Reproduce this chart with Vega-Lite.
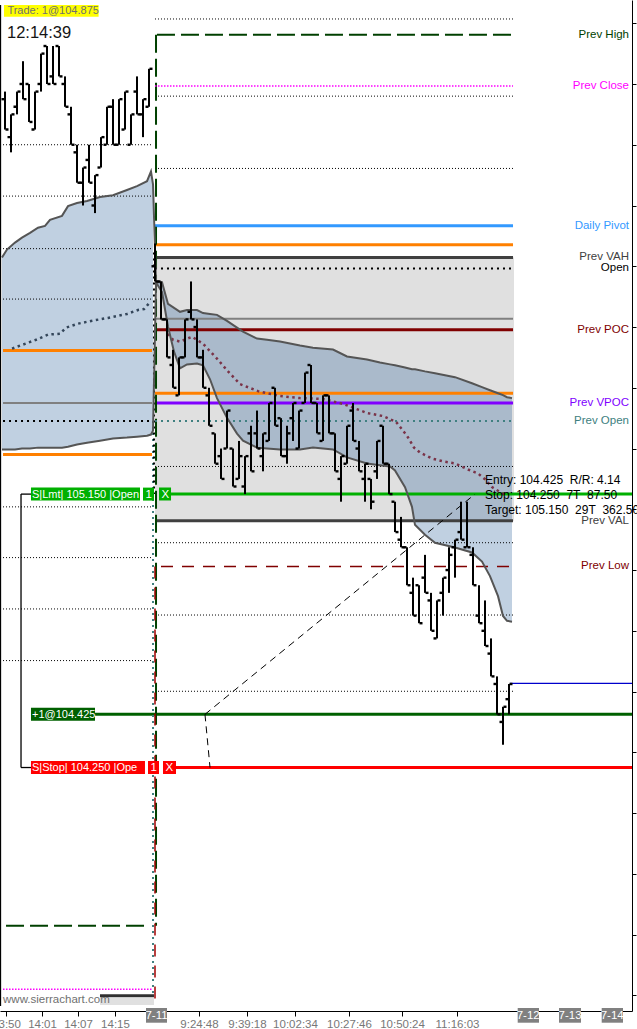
{
  "$schema": "https://vega.github.io/schema/vega-lite/v6.json",
  "width": 632,
  "height": 1011,
  "autosize": {"type": "none"},
  "padding": {"left": 0, "top": 0, "right": 5, "bottom": 18},
  "background": "#ffffff",
  "config": {"view": {"stroke": null}},
  "datasets": {
    "bars": [
      {"i":0,"o":106.45,"h":106.475,"l":106.35,"c":106.35},
      {"i":1,"o":106.325,"h":106.4,"l":106.275,"c":106.4},
      {"i":2,"o":106.425,"h":106.475,"l":106.4,"c":106.475},
      {"i":3,"o":106.5,"h":106.575,"l":106.45,"c":106.45},
      {"i":4,"o":106.5,"h":106.5,"l":106.375,"c":106.375},
      {"i":5,"o":106.35,"h":106.475,"l":106.35,"c":106.475},
      {"i":6,"o":106.5,"h":106.6,"l":106.475,"c":106.6},
      {"i":7,"o":106.625,"h":106.625,"l":106.5,"c":106.5},
      {"i":8,"o":106.525,"h":106.625,"l":106.5,"c":106.5},
      {"i":9,"o":106.625,"h":106.625,"l":106.525,"c":106.525},
      {"i":10,"o":106.5,"h":106.525,"l":106.425,"c":106.425},
      {"i":11,"o":106.4,"h":106.425,"l":106.3,"c":106.3},
      {"i":12,"o":106.275,"h":106.3,"l":106.175,"c":106.175},
      {"i":13,"o":106.175,"h":106.225,"l":106.1,"c":106.225},
      {"i":14,"o":106.25,"h":106.3,"l":106.175,"c":106.175},
      {"i":15,"o":106.1,"h":106.2,"l":106.075,"c":106.2},
      {"i":16,"o":106.225,"h":106.325,"l":106.225,"c":106.325},
      {"i":17,"o":106.3,"h":106.425,"l":106.3,"c":106.425},
      {"i":18,"o":106.425,"h":106.45,"l":106.3,"c":106.3},
      {"i":19,"o":106.3,"h":106.45,"l":106.3,"c":106.45},
      {"i":20,"o":106.35,"h":106.475,"l":106.35,"c":106.475},
      {"i":21,"o":106.3,"h":106.4,"l":106.3,"c":106.4},
      {"i":22,"o":106.475,"h":106.525,"l":106.4,"c":106.4},
      {"i":23,"o":106.4,"h":106.45,"l":106.325,"c":106.45},
      {"i":24,"o":106.425,"h":106.55,"l":106.425,"c":106.55},
      {"i":25,"o":105.9,"h":105.975,"l":105.85,"c":105.85},
      {"i":26,"o":105.85,"h":105.85,"l":105.725,"c":105.725},
      {"i":27,"o":105.725,"h":105.725,"l":105.6,"c":105.6},
      {"i":28,"o":105.575,"h":105.625,"l":105.5,"c":105.5},
      {"i":29,"o":105.475,"h":105.6,"l":105.475,"c":105.6},
      {"i":30,"o":105.6,"h":105.725,"l":105.6,"c":105.725},
      {"i":31,"o":105.75,"h":105.85,"l":105.725,"c":105.725},
      {"i":32,"o":105.7,"h":105.725,"l":105.6,"c":105.6},
      {"i":33,"o":105.6,"h":105.625,"l":105.5,"c":105.5},
      {"i":34,"o":105.475,"h":105.5,"l":105.375,"c":105.375},
      {"i":35,"o":105.35,"h":105.35,"l":105.25,"c":105.25},
      {"i":36,"o":105.275,"h":105.3,"l":105.2,"c":105.2},
      {"i":37,"o":105.3,"h":105.425,"l":105.3,"c":105.425},
      {"i":38,"o":105.3,"h":105.3,"l":105.175,"c":105.175},
      {"i":39,"o":105.2,"h":105.325,"l":105.2,"c":105.275},
      {"i":40,"o":105.175,"h":105.275,"l":105.15,"c":105.275},
      {"i":41,"o":105.35,"h":105.375,"l":105.225,"c":105.225},
      {"i":42,"o":105.35,"h":105.425,"l":105.3,"c":105.3},
      {"i":43,"o":105.275,"h":105.35,"l":105.225,"c":105.35},
      {"i":44,"o":105.325,"h":105.45,"l":105.325,"c":105.45},
      {"i":45,"o":105.5,"h":105.5,"l":105.375,"c":105.375},
      {"i":46,"o":105.4,"h":105.4,"l":105.275,"c":105.275},
      {"i":47,"o":105.275,"h":105.375,"l":105.25,"c":105.35},
      {"i":48,"o":105.4,"h":105.45,"l":105.325,"c":105.45},
      {"i":49,"o":105.3,"h":105.425,"l":105.3,"c":105.425},
      {"i":50,"o":105.45,"h":105.55,"l":105.45,"c":105.55},
      {"i":51,"o":105.575,"h":105.575,"l":105.45,"c":105.45},
      {"i":52,"o":105.45,"h":105.45,"l":105.35,"c":105.35},
      {"i":53,"o":105.325,"h":105.475,"l":105.325,"c":105.475},
      {"i":54,"o":105.475,"h":105.475,"l":105.35,"c":105.35},
      {"i":55,"o":105.35,"h":105.35,"l":105.225,"c":105.225},
      {"i":56,"o":105.2,"h":105.275,"l":105.125,"c":105.275},
      {"i":57,"o":105.25,"h":105.375,"l":105.25,"c":105.375},
      {"i":58,"o":105.425,"h":105.45,"l":105.325,"c":105.325},
      {"i":59,"o":105.3,"h":105.325,"l":105.225,"c":105.225},
      {"i":60,"o":105.2,"h":105.25,"l":105.125,"c":105.25},
      {"i":61,"o":105.2,"h":105.2,"l":105.1,"c":105.125},
      {"i":62,"o":105.225,"h":105.325,"l":105.2,"c":105.325},
      {"i":63,"o":105.375,"h":105.375,"l":105.25,"c":105.25},
      {"i":64,"o":105.25,"h":105.25,"l":105.15,"c":105.15},
      {"i":65,"o":105.125,"h":105.125,"l":105.025,"c":105.025},
      {"i":66,"o":105.0,"h":105.075,"l":104.975,"c":104.975},
      {"i":67,"o":104.975,"h":104.975,"l":104.85,"c":104.85},
      {"i":68,"o":104.825,"h":104.875,"l":104.75,"c":104.75},
      {"i":69,"o":104.85,"h":104.85,"l":104.725,"c":104.725},
      {"i":70,"o":104.875,"h":104.95,"l":104.825,"c":104.825},
      {"i":71,"o":104.8,"h":104.825,"l":104.7,"c":104.7},
      {"i":72,"o":104.675,"h":104.8,"l":104.675,"c":104.8},
      {"i":73,"o":104.825,"h":104.875,"l":104.75,"c":104.875},
      {"i":74,"o":104.9,"h":104.975,"l":104.825,"c":104.95},
      {"i":75,"o":104.975,"h":105.0,"l":104.875,"c":105.0},
      {"i":76,"o":105.025,"h":105.125,"l":105.0,"c":105.0},
      {"i":77,"o":104.975,"h":105.125,"l":104.975,"c":104.975},
      {"i":78,"o":104.95,"h":104.975,"l":104.85,"c":104.85},
      {"i":79,"o":104.75,"h":104.85,"l":104.725,"c":104.725},
      {"i":80,"o":104.7,"h":104.8,"l":104.65,"c":104.65},
      {"i":81,"o":104.625,"h":104.675,"l":104.55,"c":104.55},
      {"i":82,"o":104.525,"h":104.55,"l":104.425,"c":104.425},
      {"i":83,"o":104.4,"h":104.45,"l":104.325,"c":104.45},
      {"i":84,"o":104.475,"h":104.525,"l":104.425,"c":104.525}
    ],
    "segs": [
      {"name":"Prev High","x1":25.33,"x2":84.67,"p1":106.662,"p2":106.662},
      {"name":"Prev Close","x1":25,"x2":84.67,"p1":106.493,"p2":106.493},
      {"name":"Daily Pivot","x1":25,"x2":84.67,"p1":106.033,"p2":106.033},
      {"name":"Orange A","x1":25,"x2":84.67,"p1":105.971,"p2":105.971},
      {"name":"Prev VAH","x1":25,"x2":84.67,"p1":105.929,"p2":105.929},
      {"name":"Open","x1":25,"x2":84.67,"p1":105.893,"p2":105.893},
      {"name":"Grey A","x1":25,"x2":84.67,"p1":105.727,"p2":105.727},
      {"name":"Prev POC","x1":25,"x2":84.67,"p1":105.691,"p2":105.691},
      {"name":"Orange B","x1":25,"x2":84.67,"p1":105.482,"p2":105.482},
      {"name":"Prev VPOC","x1":25,"x2":84.67,"p1":105.45,"p2":105.45},
      {"name":"Prev Open","x1":25,"x2":84.67,"p1":105.391,"p2":105.391},
      {"name":"Prev VAL","x1":25,"x2":84.67,"p1":105.062,"p2":105.062},
      {"name":"Prev Low","x1":26,"x2":84.67,"p1":104.912,"p2":104.912},
      {"name":"Orange L1","x1":-0.33,"x2":24.5,"p1":105.623,"p2":105.623},
      {"name":"Orange L2","x1":-0.33,"x2":24.5,"p1":105.28,"p2":105.28},
      {"name":"Grey L","x1":-0.33,"x2":24.5,"p1":105.45,"p2":105.45},
      {"name":"Open L","x1":-0.33,"x2":24.5,"p1":105.391,"p2":105.391},
      {"name":"High L","x1":0.17,"x2":24.17,"p1":103.729,"p2":103.729},
      {"name":"Close L","x1":-0.33,"x2":24.67,"p1":103.52,"p2":103.52},
      {"name":"Target","x1":27.67,"x2":104.5,"p1":105.15,"p2":105.15},
      {"name":"Entry","x1":15,"x2":104.5,"p1":104.425,"p2":104.425},
      {"name":"Stop","x1":28.5,"x2":104.5,"p1":104.25,"p2":104.25},
      {"name":"Last","x1":84.17,"x2":104.5,"p1":104.527,"p2":104.527},
      {"name":"Grid","x1":25,"x2":84.67,"p1":106.714,"p2":106.714},
      {"name":"Grid","x1":25,"x2":84.67,"p1":106.46,"p2":106.46},
      {"name":"Grid","x1":25,"x2":84.67,"p1":106.222,"p2":106.222},
      {"name":"Grid","x1":25,"x2":84.67,"p1":105.241,"p2":105.241},
      {"name":"Grid","x1":25,"x2":84.67,"p1":104.99,"p2":104.99},
      {"name":"Grid","x1":25,"x2":84.67,"p1":104.752,"p2":104.752},
      {"name":"Grid","x1":25,"x2":84.67,"p1":104.501,"p2":104.501},
      {"name":"Grid","x1":-0.33,"x2":24.5,"p1":106.3,"p2":106.3},
      {"name":"Grid","x1":-0.33,"x2":24.5,"p1":106.131,"p2":106.131},
      {"name":"Grid","x1":-0.33,"x2":24.5,"p1":105.958,"p2":105.958},
      {"name":"Grid","x1":-0.33,"x2":24.5,"p1":105.792,"p2":105.792},
      {"name":"Grid","x1":-0.33,"x2":24.5,"p1":105.108,"p2":105.108},
      {"name":"Grid","x1":-0.33,"x2":24.5,"p1":104.941,"p2":104.941},
      {"name":"Grid","x1":-0.33,"x2":24.5,"p1":104.772,"p2":104.772},
      {"name":"Grid","x1":-0.33,"x2":24.5,"p1":104.602,"p2":104.602},
      {"name":"High V","x1":25.17,"x2":25.17,"p1":106.662,"p2":103.729},
      {"name":"Open V","x1":24.67,"x2":24.67,"p1":105.391,"p2":103.501},
      {"name":"Low V","x1":25,"x2":25,"p1":104.912,"p2":103.465},
      {"name":"DayOpen V","x1":24.83,"x2":24.83,"p1":105.945,"p2":105.15},
      {"name":"Bracket","x1":2.67,"x2":2.67,"p1":105.15,"p2":104.25},
      {"name":"Bracket","x1":2.67,"x2":4.33,"p1":105.15,"p2":105.15},
      {"name":"Bracket","x1":2.67,"x2":4.33,"p1":104.25,"p2":104.25},
      {"name":"Trade","x1":33.33,"x2":78.33,"p1":104.425,"p2":105.15},
      {"name":"Trade","x1":33.33,"x2":34.17,"p1":104.425,"p2":104.25},
      {"name":"Border","x1":-0.75,"x2":-0.75,"p1":106.76,"p2":103.465}
    ],
    "band": [
      {"s":"prev","i":-0.5,"up":105.929,"lo":105.297},
      {"s":"prev","i":0.33,"up":105.955,"lo":105.297},
      {"s":"prev","i":1.67,"up":105.978,"lo":105.297},
      {"s":"prev","i":2.83,"up":105.994,"lo":105.3},
      {"s":"prev","i":4.17,"up":106.01,"lo":105.3},
      {"s":"prev","i":5.5,"up":106.027,"lo":105.303},
      {"s":"prev","i":6.67,"up":106.033,"lo":105.303},
      {"s":"prev","i":7.5,"up":106.053,"lo":105.303},
      {"s":"prev","i":9.5,"up":106.066,"lo":105.303},
      {"s":"prev","i":10.5,"up":106.098,"lo":105.306},
      {"s":"prev","i":12,"up":106.108,"lo":105.313},
      {"s":"prev","i":13.67,"up":106.115,"lo":105.319},
      {"s":"prev","i":15.83,"up":106.128,"lo":105.326},
      {"s":"prev","i":18,"up":106.134,"lo":105.333},
      {"s":"prev","i":20.33,"up":106.151,"lo":105.336},
      {"s":"prev","i":22,"up":106.164,"lo":105.339},
      {"s":"prev","i":23.67,"up":106.18,"lo":105.342},
      {"s":"prev","i":24.33,"up":106.212,"lo":105.346},
      {"s":"prev","i":24.67,"up":106.17,"lo":105.359},
      {"s":"today","i":25.17,"up":105.847,"lo":105.847},
      {"s":"today","i":26.17,"up":105.847,"lo":105.815},
      {"s":"today","i":27.17,"up":105.776,"lo":105.701},
      {"s":"today","i":28.17,"up":105.763,"lo":105.619},
      {"s":"today","i":29.17,"up":105.75,"lo":105.564},
      {"s":"today","i":30.33,"up":105.756,"lo":105.577},
      {"s":"today","i":32,"up":105.756,"lo":105.58},
      {"s":"today","i":33,"up":105.746,"lo":105.574},
      {"s":"today","i":34.17,"up":105.743,"lo":105.528},
      {"s":"today","i":35.33,"up":105.74,"lo":105.466},
      {"s":"today","i":37,"up":105.72,"lo":105.401},
      {"s":"today","i":38.67,"up":105.698,"lo":105.349},
      {"s":"today","i":39.67,"up":105.685,"lo":105.326},
      {"s":"today","i":42,"up":105.662,"lo":105.303},
      {"s":"today","i":43.67,"up":105.658,"lo":105.3},
      {"s":"today","i":45.83,"up":105.652,"lo":105.297},
      {"s":"today","i":49.17,"up":105.639,"lo":105.297},
      {"s":"today","i":51.33,"up":105.632,"lo":105.303},
      {"s":"today","i":54.67,"up":105.626,"lo":105.297},
      {"s":"today","i":57,"up":105.603,"lo":105.271},
      {"s":"today","i":60.33,"up":105.593,"lo":105.251},
      {"s":"today","i":62.5,"up":105.583,"lo":105.245},
      {"s":"today","i":64.17,"up":105.577,"lo":105.241},
      {"s":"today","i":65,"up":105.574,"lo":105.228},
      {"s":"today","i":66.67,"up":105.567,"lo":105.173},
      {"s":"today","i":67.83,"up":105.561,"lo":105.108},
      {"s":"today","i":68.33,"up":105.561,"lo":105.049},
      {"s":"today","i":70,"up":105.554,"lo":105.016},
      {"s":"today","i":71.67,"up":105.548,"lo":104.99},
      {"s":"today","i":75,"up":105.535,"lo":104.974},
      {"s":"today","i":77.83,"up":105.515,"lo":104.958},
      {"s":"today","i":79.5,"up":105.502,"lo":104.928},
      {"s":"today","i":80.83,"up":105.492,"lo":104.88},
      {"s":"today","i":82.17,"up":105.482,"lo":104.814},
      {"s":"today","i":83,"up":105.476,"lo":104.749},
      {"s":"today","i":83.67,"up":105.469,"lo":104.733},
      {"s":"today","i":84.5,"up":105.466,"lo":104.73}
    ],
    "vwap": [
      {"s":"prev","i":1.17,"v":105.629},
      {"s":"prev","i":5.17,"v":105.658},
      {"s":"prev","i":7.17,"v":105.675},
      {"s":"prev","i":9.17,"v":105.678},
      {"s":"prev","i":10.17,"v":105.698},
      {"s":"prev","i":12.17,"v":105.711},
      {"s":"prev","i":14.33,"v":105.72},
      {"s":"prev","i":17.17,"v":105.73},
      {"s":"prev","i":20.33,"v":105.743},
      {"s":"prev","i":22.17,"v":105.756},
      {"s":"prev","i":23.17,"v":105.759},
      {"s":"prev","i":24.17,"v":105.782},
      {"s":"today","i":27.17,"v":105.678},
      {"s":"today","i":28,"v":105.658},
      {"s":"today","i":29.17,"v":105.652},
      {"s":"today","i":31.17,"v":105.668},
      {"s":"today","i":33,"v":105.645},
      {"s":"today","i":35.33,"v":105.596},
      {"s":"today","i":37.17,"v":105.554},
      {"s":"today","i":39.17,"v":105.512},
      {"s":"today","i":42.17,"v":105.489},
      {"s":"today","i":45.83,"v":105.473},
      {"s":"today","i":49.17,"v":105.466},
      {"s":"today","i":53,"v":105.463},
      {"s":"today","i":56.33,"v":105.447},
      {"s":"today","i":60.33,"v":105.417},
      {"s":"today","i":63,"v":105.407},
      {"s":"today","i":65.17,"v":105.388},
      {"s":"today","i":67,"v":105.342},
      {"s":"today","i":68.17,"v":105.303},
      {"s":"today","i":69.17,"v":105.287},
      {"s":"today","i":71.17,"v":105.267},
      {"s":"today","i":73,"v":105.258},
      {"s":"today","i":75,"v":105.251},
      {"s":"today","i":77.17,"v":105.231},
      {"s":"today","i":78.83,"v":105.218},
      {"s":"today","i":80,"v":105.199},
      {"s":"today","i":81.17,"v":105.173},
      {"s":"today","i":83.33,"v":105.147}
    ],
    "orders": [
      {"kind":"Target","part":"main","text":"S|Lmt| 105.150 |Open|0","x1":4.33,"x2":22.5,"p":105.15},
      {"kind":"Target","part":"small","text":"1","x1":23,"x2":24.83,"p":105.15},
      {"kind":"Target","part":"small","text":"X","x1":25.67,"x2":27.67,"p":105.15},
      {"kind":"Entry","part":"main","text":"+1@104.425","x1":4.33,"x2":15,"p":104.425},
      {"kind":"Stop","part":"main","text":"S|Stop| 104.250 |Open|0","x1":4.33,"x2":23.33,"p":104.25},
      {"kind":"Stop","part":"small","text":"1","x1":23.83,"x2":25.67,"p":104.25},
      {"kind":"Stop","part":"small","text":"X","x1":26.33,"x2":28.5,"p":104.25}
    ],
    "boxes": [
      {"name":"VA","x1":25,"x2":84.83,"p1":105.929,"p2":105.062},
      {"name":"Header","x1":-0.17,"x2":15.6,"p1":106.76,"p2":106.721},
      {"name":"LogoBar","x1":15.83,"x2":24.83,"p1":103.504,"p2":103.494},
      {"name":"LogoBox","x1":15.83,"x2":24.83,"p1":103.491,"p2":103.468},
      {"name":"Date","x1":23.5,"x2":27,"p1":103.4585,"p2":103.41},
      {"name":"Date","x1":85.45,"x2":89,"p1":103.4585,"p2":103.41},
      {"name":"Date","x1":92.33,"x2":96,"p1":103.4585,"p2":103.41},
      {"name":"Date","x1":99.45,"x2":103,"p1":103.4585,"p2":103.41}
    ],
    "notes": [
      {"name":"trade","text":"Trade: 1@104.875","i":0.4,"p":106.741},
      {"name":"clock","text":"12:14:39","i":0.33,"p":106.667},
      {"name":"logo","text":"www.sierrachart.com","i":-0.33,"p":103.485},
      {"name":"info","text":"Entry: 104.425\u00a0 R/R: 4.14\nStop: 104.250\u00a0 7T\u00a0 87.50\nTarget: 105.150\u00a0 29T\u00a0 362.50","i":80,"p":105.196},
      {"name":"date","text":"7-11","i":25.25,"p":103.433},
      {"name":"date","text":"7-12","i":87.2,"p":103.433},
      {"name":"date","text":"7-13","i":94.17,"p":103.433},
      {"name":"date","text":"7-14","i":101.2,"p":103.433}
    ]
  },
  "layer": [
    {
      "data": {"name": "boxes"},
      "transform": [{"filter": "datum.name == 'VA'"}],
      "mark": {"type": "rect", "color": "#e0e0e0"},
      "encoding": {
        "x": {"field": "x1", "type": "quantitative", "title": null,
          "scale": {"domain": [-0.833, 104.5], "nice": false, "zero": false},
          "axis": {"orient": "bottom", "grid": false, "title": null,
            "values": [0.17, 6.17, 12.17, 18.33, 25.33, 32.33, 40.33, 48.33, 57.33, 66.17, 75.33, 87.17, 94.17, 101.17],
            "labelExpr": "['13:50','14:01','14:07','14:15','','9:24:48','9:39:18','10:02:34','10:27:46','10:50:24','11:16:03','','',''][indexof([0.17, 6.17, 12.17, 18.33, 25.33, 32.33, 40.33, 48.33, 57.33, 66.17, 75.33, 87.17, 94.17, 101.17], datum.value)]",
            "tickSize": 5, "tickColor": "#000000", "domainColor": "#000000",
            "labelColor": "#777777", "labelFont": "Liberation Sans",
            "labelFontSize": 11.5, "labelPadding": 2, "labelFlush": false, "labelOverlap": false}},
        "x2": {"field": "x2"},
        "y": {"field": "p1", "type": "quantitative", "title": null,
          "scale": {"domain": [103.465, 106.76], "nice": false, "zero": false},
          "axis": {"orient": "right", "grid": false, "title": null, "labels": false,
            "values": [103.5,103.6,103.7,103.8,103.9,104.0,104.1,104.2,104.3,104.4,104.5,104.6,104.7,104.8,104.9,105.0,105.1,105.2,105.3,105.4,105.5,105.6,105.7,105.8,105.9,106.0,106.1,106.2,106.3,106.4,106.5,106.6,106.7],
            "tickSize": 4, "tickColor": "#000000", "domainColor": "#000000"}},
        "y2": {"field": "p2"}
      }
    },
    {
      "data": {"name": "band"},
      "mark": {"type": "area", "color": "#30629b", "opacity": 0.3},
      "encoding": {
        "x": {"field": "i", "type": "quantitative", "title": null},
        "y": {"field": "up", "type": "quantitative", "title": null},
        "y2": {"field": "lo"},
        "detail": {"field": "s"}
      }
    },
    {
      "data": {"name": "segs"},
      "transform": [{"filter": "datum.name == 'Grid'"}],
      "mark": {"type": "rule", "strokeWidth": 1, "strokeDash": [1, 2], "color": "#000000"},
      "encoding": {
        "x": {"field": "x1", "type": "quantitative", "title": null}, "x2": {"field": "x2"},
        "y": {"field": "p1", "type": "quantitative", "title": null}, "y2": {"field": "p2"}
      }
    },
    {
      "data": {"name": "boxes"},
      "transform": [{"filter": "datum.name == 'Header'"}],
      "mark": {"type": "rect", "color": "#ffff00"},
      "encoding": {
        "x": {"field": "x1", "type": "quantitative", "title": null}, "x2": {"field": "x2"},
        "y": {"field": "p1", "type": "quantitative", "title": null}, "y2": {"field": "p2"}
      }
    },
    {
      "data": {"name": "boxes"},
      "transform": [{"filter": "datum.name == 'LogoBar'"}],
      "mark": {"type": "rect", "color": "#303030"},
      "encoding": {
        "x": {"field": "x1", "type": "quantitative", "title": null}, "x2": {"field": "x2"},
        "y": {"field": "p1", "type": "quantitative", "title": null}, "y2": {"field": "p2"}
      }
    },
    {
      "data": {"name": "boxes"},
      "transform": [{"filter": "datum.name == 'LogoBox'"}],
      "mark": {"type": "rect", "color": "#e0e0e0"},
      "encoding": {
        "x": {"field": "x1", "type": "quantitative", "title": null}, "x2": {"field": "x2"},
        "y": {"field": "p1", "type": "quantitative", "title": null}, "y2": {"field": "p2"}
      }
    },
    {
      "data": {"name": "segs"},
      "transform": [{"filter": {"field": "name", "oneOf": ["Grey A", "Grey L"]}}],
      "mark": {"type": "rule", "strokeWidth": 2},
      "encoding": {
        "x": {"field": "x1", "type": "quantitative", "title": null}, "x2": {"field": "x2"},
        "y": {"field": "p1", "type": "quantitative", "title": null}, "y2": {"field": "p2"},
        "color": {"field": "name", "type": "nominal", "legend": null,
          "scale": {"domain": ["Prev High","High L","High V","Prev Close","Close L","Daily Pivot","Orange A","Orange B","Orange L1","Orange L2","Prev VAH","Prev VAL","Open","Open L","DayOpen V","Grey A","Grey L","Prev POC","Prev Low","Low V","Prev VPOC","Prev Open","Open V","Target","Entry","Stop","Last","Grid","Bracket","Trade","Border"],
            "range": ["#004000","#004000","#004000","#ff00ff","#ff00ff","#3399ff","#ff8000","#ff8000","#ff8000","#ff8000","#404040","#404040","#000000","#000000","#000000","#808080","#808080","#800000","#800000","#a00000","#8000ff","#408080","#408080","#00b000","#006000","#ff0000","#0000cc","#000000","#000000","#000000","#000000"]}}
      }
    },
    {
      "data": {"name": "segs"},
      "transform": [{"filter": {"field": "name", "oneOf": ["Daily Pivot","Orange A","Orange B","Orange L1","Orange L2","Prev VAH","Prev VAL","Prev POC","Prev VPOC","Target","Entry","Stop"]}}],
      "mark": {"type": "rule", "strokeWidth": 3},
      "encoding": {
        "x": {"field": "x1", "type": "quantitative", "title": null}, "x2": {"field": "x2"},
        "y": {"field": "p1", "type": "quantitative", "title": null}, "y2": {"field": "p2"},
        "color": {"field": "name", "type": "nominal", "legend": null,
          "scale": {"domain": ["Prev High","High L","High V","Prev Close","Close L","Daily Pivot","Orange A","Orange B","Orange L1","Orange L2","Prev VAH","Prev VAL","Open","Open L","DayOpen V","Grey A","Grey L","Prev POC","Prev Low","Low V","Prev VPOC","Prev Open","Open V","Target","Entry","Stop","Last","Grid","Bracket","Trade","Border"],
            "range": ["#004000","#004000","#004000","#ff00ff","#ff00ff","#3399ff","#ff8000","#ff8000","#ff8000","#ff8000","#404040","#404040","#000000","#000000","#000000","#808080","#808080","#800000","#800000","#a00000","#8000ff","#408080","#408080","#00b000","#006000","#ff0000","#0000cc","#000000","#000000","#000000","#000000"]}}
      }
    },
    {
      "data": {"name": "segs"},
      "transform": [{"filter": {"field": "name", "oneOf": ["Prev High", "High L", "High V"]}}],
      "mark": {"type": "rule", "strokeWidth": 2, "strokeDash": [18, 6]},
      "encoding": {
        "x": {"field": "x1", "type": "quantitative", "title": null}, "x2": {"field": "x2"},
        "y": {"field": "p1", "type": "quantitative", "title": null}, "y2": {"field": "p2"},
        "color": {"field": "name", "type": "nominal", "legend": null,
          "scale": {"domain": ["Prev High","High L","High V","Prev Close","Close L","Daily Pivot","Orange A","Orange B","Orange L1","Orange L2","Prev VAH","Prev VAL","Open","Open L","DayOpen V","Grey A","Grey L","Prev POC","Prev Low","Low V","Prev VPOC","Prev Open","Open V","Target","Entry","Stop","Last","Grid","Bracket","Trade","Border"],
            "range": ["#004000","#004000","#004000","#ff00ff","#ff00ff","#3399ff","#ff8000","#ff8000","#ff8000","#ff8000","#404040","#404040","#000000","#000000","#000000","#808080","#808080","#800000","#800000","#a00000","#8000ff","#408080","#408080","#00b000","#006000","#ff0000","#0000cc","#000000","#000000","#000000","#000000"]}}
      }
    },
    {
      "data": {"name": "segs"},
      "transform": [{"filter": {"field": "name", "oneOf": ["Prev Low", "Low V"]}}],
      "mark": {"type": "rule", "strokeWidth": 1.5, "strokeDash": [12, 9]},
      "encoding": {
        "x": {"field": "x1", "type": "quantitative", "title": null}, "x2": {"field": "x2"},
        "y": {"field": "p1", "type": "quantitative", "title": null}, "y2": {"field": "p2"},
        "color": {"field": "name", "type": "nominal", "legend": null,
          "scale": {"domain": ["Prev High","High L","High V","Prev Close","Close L","Daily Pivot","Orange A","Orange B","Orange L1","Orange L2","Prev VAH","Prev VAL","Open","Open L","DayOpen V","Grey A","Grey L","Prev POC","Prev Low","Low V","Prev VPOC","Prev Open","Open V","Target","Entry","Stop","Last","Grid","Bracket","Trade","Border"],
            "range": ["#004000","#004000","#004000","#ff00ff","#ff00ff","#3399ff","#ff8000","#ff8000","#ff8000","#ff8000","#404040","#404040","#000000","#000000","#000000","#808080","#808080","#800000","#800000","#a00000","#8000ff","#408080","#408080","#00b000","#006000","#ff0000","#0000cc","#000000","#000000","#000000","#000000"]}}
      }
    },
    {
      "data": {"name": "segs"},
      "transform": [{"filter": {"field": "name", "oneOf": ["Open", "Open L", "Prev Open", "Open V", "DayOpen V"]}}],
      "mark": {"type": "rule", "strokeWidth": 2, "strokeDash": [2, 4]},
      "encoding": {
        "x": {"field": "x1", "type": "quantitative", "title": null}, "x2": {"field": "x2"},
        "y": {"field": "p1", "type": "quantitative", "title": null}, "y2": {"field": "p2"},
        "color": {"field": "name", "type": "nominal", "legend": null,
          "scale": {"domain": ["Prev High","High L","High V","Prev Close","Close L","Daily Pivot","Orange A","Orange B","Orange L1","Orange L2","Prev VAH","Prev VAL","Open","Open L","DayOpen V","Grey A","Grey L","Prev POC","Prev Low","Low V","Prev VPOC","Prev Open","Open V","Target","Entry","Stop","Last","Grid","Bracket","Trade","Border"],
            "range": ["#004000","#004000","#004000","#ff00ff","#ff00ff","#3399ff","#ff8000","#ff8000","#ff8000","#ff8000","#404040","#404040","#000000","#000000","#000000","#808080","#808080","#800000","#800000","#a00000","#8000ff","#408080","#408080","#00b000","#006000","#ff0000","#0000cc","#000000","#000000","#000000","#000000"]}}
      }
    },
    {
      "data": {"name": "segs"},
      "transform": [{"filter": {"field": "name", "oneOf": ["Prev Close", "Close L"]}}],
      "mark": {"type": "rule", "strokeWidth": 1.5, "strokeDash": [1.5, 1.5]},
      "encoding": {
        "x": {"field": "x1", "type": "quantitative", "title": null}, "x2": {"field": "x2"},
        "y": {"field": "p1", "type": "quantitative", "title": null}, "y2": {"field": "p2"},
        "color": {"field": "name", "type": "nominal", "legend": null,
          "scale": {"domain": ["Prev High","High L","High V","Prev Close","Close L","Daily Pivot","Orange A","Orange B","Orange L1","Orange L2","Prev VAH","Prev VAL","Open","Open L","DayOpen V","Grey A","Grey L","Prev POC","Prev Low","Low V","Prev VPOC","Prev Open","Open V","Target","Entry","Stop","Last","Grid","Bracket","Trade","Border"],
            "range": ["#004000","#004000","#004000","#ff00ff","#ff00ff","#3399ff","#ff8000","#ff8000","#ff8000","#ff8000","#404040","#404040","#000000","#000000","#000000","#808080","#808080","#800000","#800000","#a00000","#8000ff","#408080","#408080","#00b000","#006000","#ff0000","#0000cc","#000000","#000000","#000000","#000000"]}}
      }
    },
    {
      "data": {"name": "vwap"},
      "transform": [{"filter": "datum.s == 'prev'"}],
      "mark": {"type": "line", "color": "#34465a", "strokeWidth": 2.5, "strokeDash": [2.5, 3.5]},
      "encoding": {
        "x": {"field": "i", "type": "quantitative", "title": null},
        "y": {"field": "v", "type": "quantitative", "title": null}
      }
    },
    {
      "data": {"name": "vwap"},
      "transform": [{"filter": "datum.s == 'today'"}],
      "mark": {"type": "line", "color": "#7a3348", "strokeWidth": 2.5, "strokeDash": [2.5, 3.5]},
      "encoding": {
        "x": {"field": "i", "type": "quantitative", "title": null},
        "y": {"field": "v", "type": "quantitative", "title": null}
      }
    },
    {
      "data": {"name": "band"},
      "mark": {"type": "line", "color": "#555555", "strokeWidth": 2},
      "encoding": {
        "x": {"field": "i", "type": "quantitative", "title": null},
        "y": {"field": "up", "type": "quantitative", "title": null}
      }
    },
    {
      "data": {"name": "band"},
      "mark": {"type": "line", "color": "#555555", "strokeWidth": 2},
      "encoding": {
        "x": {"field": "i", "type": "quantitative", "title": null},
        "y": {"field": "lo", "type": "quantitative", "title": null}
      }
    },
    {
      "data": {"name": "segs"},
      "transform": [{"filter": {"field": "name", "oneOf": ["Last", "Bracket", "Border"]}}],
      "mark": {"type": "rule", "strokeWidth": 1.3},
      "encoding": {
        "x": {"field": "x1", "type": "quantitative", "title": null}, "x2": {"field": "x2"},
        "y": {"field": "p1", "type": "quantitative", "title": null}, "y2": {"field": "p2"},
        "color": {"field": "name", "type": "nominal", "legend": null,
          "scale": {"domain": ["Prev High","High L","High V","Prev Close","Close L","Daily Pivot","Orange A","Orange B","Orange L1","Orange L2","Prev VAH","Prev VAL","Open","Open L","DayOpen V","Grey A","Grey L","Prev POC","Prev Low","Low V","Prev VPOC","Prev Open","Open V","Target","Entry","Stop","Last","Grid","Bracket","Trade","Border"],
            "range": ["#004000","#004000","#004000","#ff00ff","#ff00ff","#3399ff","#ff8000","#ff8000","#ff8000","#ff8000","#404040","#404040","#000000","#000000","#000000","#808080","#808080","#800000","#800000","#a00000","#8000ff","#408080","#408080","#00b000","#006000","#ff0000","#0000cc","#000000","#000000","#000000","#000000"]}}
      }
    },
    {
      "data": {"name": "segs"},
      "transform": [{"filter": "datum.name == 'Trade'"}],
      "mark": {"type": "rule", "strokeWidth": 1, "strokeDash": [7, 5], "color": "#000000"},
      "encoding": {
        "x": {"field": "x1", "type": "quantitative", "title": null}, "x2": {"field": "x2"},
        "y": {"field": "p1", "type": "quantitative", "title": null}, "y2": {"field": "p2"}
      }
    },
    {
      "data": {"name": "bars"},
      "mark": {"type": "rule", "strokeWidth": 2, "color": "#000000"},
      "encoding": {
        "x": {"field": "i", "type": "quantitative", "title": null},
        "y": {"field": "l", "type": "quantitative", "title": null},
        "y2": {"field": "h"}
      }
    },
    {
      "data": {"name": "bars"},
      "mark": {"type": "tick", "orient": "horizontal", "size": 3, "thickness": 2.4, "xOffset": -2, "color": "#000000", "opacity": 1},
      "encoding": {
        "x": {"field": "i", "type": "quantitative", "title": null},
        "y": {"field": "o", "type": "quantitative", "title": null}
      }
    },
    {
      "data": {"name": "bars"},
      "mark": {"type": "tick", "orient": "horizontal", "size": 3, "thickness": 2.4, "xOffset": 2, "color": "#000000", "opacity": 1},
      "encoding": {
        "x": {"field": "i", "type": "quantitative", "title": null},
        "y": {"field": "c", "type": "quantitative", "title": null}
      }
    },
    {
      "data": {"name": "orders"},
      "mark": {"type": "bar", "orient": "horizontal", "size": 13},
      "encoding": {
        "x": {"field": "x1", "type": "quantitative", "title": null}, "x2": {"field": "x2"},
        "y": {"field": "p", "type": "quantitative", "title": null},
        "color": {"field": "kind", "type": "nominal", "legend": null,
          "scale": {"domain": ["Prev High","High L","High V","Prev Close","Close L","Daily Pivot","Orange A","Orange B","Orange L1","Orange L2","Prev VAH","Prev VAL","Open","Open L","DayOpen V","Grey A","Grey L","Prev POC","Prev Low","Low V","Prev VPOC","Prev Open","Open V","Target","Entry","Stop","Last","Grid","Bracket","Trade","Border"],
            "range": ["#004000","#004000","#004000","#ff00ff","#ff00ff","#3399ff","#ff8000","#ff8000","#ff8000","#ff8000","#404040","#404040","#000000","#000000","#000000","#808080","#808080","#800000","#800000","#a00000","#8000ff","#408080","#408080","#00b000","#006000","#ff0000","#0000cc","#000000","#000000","#000000","#000000"]}}
      }
    },
    {
      "data": {"name": "orders"},
      "transform": [{"filter": "datum.part == 'main'"}],
      "mark": {"type": "text", "align": "left", "baseline": "middle", "dx": 1, "dy": 0.5, "limit": 108, "ellipsis": "\u200b", "color": "#ffffff", "font": "Liberation Sans", "fontSize": 11},
      "encoding": {
        "x": {"field": "x1", "type": "quantitative", "title": null},
        "y": {"field": "p", "type": "quantitative", "title": null},
        "text": {"field": "text"}
      }
    },
    {
      "data": {"name": "orders"},
      "transform": [{"filter": "datum.part == 'small'"}],
      "mark": {"type": "text", "align": "left", "baseline": "middle", "dx": 2.5, "dy": 0.5, "color": "#ffffff", "font": "Liberation Sans", "fontSize": 11.5},
      "encoding": {
        "x": {"field": "x1", "type": "quantitative", "title": null},
        "y": {"field": "p", "type": "quantitative", "title": null},
        "text": {"field": "text"}
      }
    },
    {
      "data": {"name": "segs"},
      "transform": [{"filter": {"field": "name", "oneOf": ["Prev High","Prev Close","Daily Pivot","Prev VAH","Open","Prev POC","Prev VPOC","Prev Open","Prev VAL","Prev Low"]}}],
      "mark": {"type": "text", "align": "right", "baseline": "middle", "font": "Liberation Sans", "fontSize": 11.5},
      "encoding": {
        "x": {"datum": 104},
        "y": {"field": "p1", "type": "quantitative", "title": null},
        "text": {"field": "name"},
        "color": {"field": "name", "type": "nominal", "legend": null,
          "scale": {"domain": ["Prev High","High L","High V","Prev Close","Close L","Daily Pivot","Orange A","Orange B","Orange L1","Orange L2","Prev VAH","Prev VAL","Open","Open L","DayOpen V","Grey A","Grey L","Prev POC","Prev Low","Low V","Prev VPOC","Prev Open","Open V","Target","Entry","Stop","Last","Grid","Bracket","Trade","Border"],
            "range": ["#004000","#004000","#004000","#ff00ff","#ff00ff","#3399ff","#ff8000","#ff8000","#ff8000","#ff8000","#404040","#404040","#000000","#000000","#000000","#808080","#808080","#800000","#800000","#a00000","#8000ff","#408080","#408080","#00b000","#006000","#ff0000","#0000cc","#000000","#000000","#000000","#000000"]}}
      }
    },
    {
      "data": {"name": "notes"},
      "transform": [{"filter": "datum.name == 'trade'"}],
      "mark": {"type": "text", "align": "left", "baseline": "middle", "color": "#707070", "font": "Liberation Sans", "fontSize": 11},
      "encoding": {
        "x": {"field": "i", "type": "quantitative", "title": null},
        "y": {"field": "p", "type": "quantitative", "title": null},
        "text": {"field": "text"}
      }
    },
    {
      "data": {"name": "notes"},
      "transform": [{"filter": "datum.name == 'clock'"}],
      "mark": {"type": "text", "align": "left", "baseline": "middle", "color": "#151515", "font": "Liberation Sans", "fontSize": 16.5},
      "encoding": {
        "x": {"field": "i", "type": "quantitative", "title": null},
        "y": {"field": "p", "type": "quantitative", "title": null},
        "text": {"field": "text"}
      }
    },
    {
      "data": {"name": "notes"},
      "transform": [{"filter": "datum.name == 'logo'"}],
      "mark": {"type": "text", "align": "left", "baseline": "middle", "color": "#707070", "font": "Liberation Sans", "fontSize": 11.5},
      "encoding": {
        "x": {"field": "i", "type": "quantitative", "title": null},
        "y": {"field": "p", "type": "quantitative", "title": null},
        "text": {"field": "text"}
      }
    },
    {
      "data": {"name": "notes"},
      "transform": [{"filter": "datum.name == 'info'"}],
      "mark": {"type": "text", "align": "left", "baseline": "middle", "lineBreak": "\n", "lineHeight": 15, "color": "#000000", "font": "Liberation Sans", "fontSize": 12},
      "encoding": {
        "x": {"field": "i", "type": "quantitative", "title": null},
        "y": {"field": "p", "type": "quantitative", "title": null},
        "text": {"field": "text"}
      }
    },
    {
      "data": {"name": "boxes"},
      "transform": [{"filter": "datum.name == 'Date'"}],
      "mark": {"type": "rect", "color": "#808080"},
      "encoding": {
        "x": {"field": "x1", "type": "quantitative", "title": null}, "x2": {"field": "x2"},
        "y": {"field": "p1", "type": "quantitative", "title": null}, "y2": {"field": "p2"}
      }
    },
    {
      "data": {"name": "notes"},
      "transform": [{"filter": "datum.name == 'date'"}],
      "mark": {"type": "text", "align": "center", "baseline": "middle", "color": "#ffffff", "font": "Liberation Sans", "fontSize": 11.5},
      "encoding": {
        "x": {"field": "i", "type": "quantitative", "title": null},
        "y": {"field": "p", "type": "quantitative", "title": null},
        "text": {"field": "text"}
      }
    }
  ]
}
